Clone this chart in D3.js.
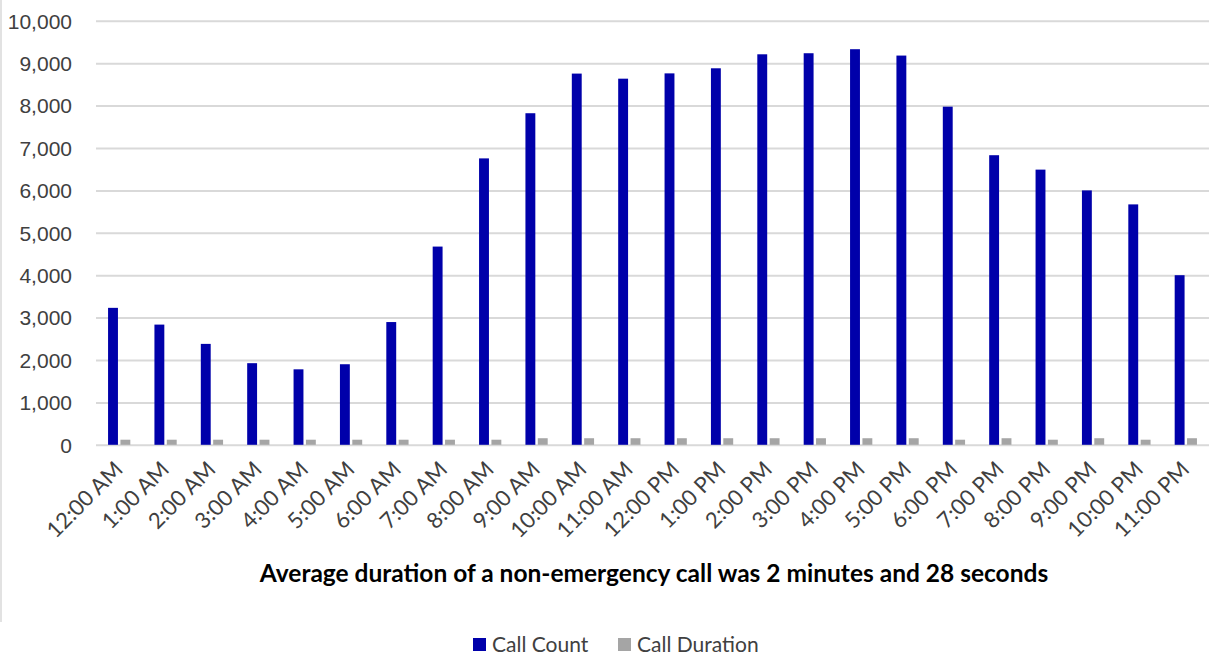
<!DOCTYPE html>
<html>
<head>
<meta charset="utf-8">
<script src="https://cdn.jsdelivr.net/npm/d3@7"></script>
<style>
  body { margin: 0; background: #fff; }
  svg { font-family: Lato, "Open Sans", sans-serif; }
</style>
</head>
<body>
<svg id="chart"></svg>
<script>
// hours of the day
const hours = ["12:00 AM", "1:00 AM", "2:00 AM", "3:00 AM", "4:00 AM", "5:00 AM",
  "6:00 AM", "7:00 AM", "8:00 AM", "9:00 AM", "10:00 AM", "11:00 AM",
  "12:00 PM", "1:00 PM", "2:00 PM", "3:00 PM", "4:00 PM", "5:00 PM",
  "6:00 PM", "7:00 PM", "8:00 PM", "9:00 PM", "10:00 PM", "11:00 PM"];

const callCount = [3230, 2835, 2380, 1925, 1780, 1900, 2895, 4675, 6755, 7820,
  8755, 8635, 8760, 8880, 9210, 9235, 9330, 9180, 7975, 6830, 6490, 6000, 5670, 4000];

const callDuration = [120, 120, 120, 120, 120, 120, 120, 120, 120, 155,
  155, 155, 155, 155, 155, 155, 155, 155, 120, 155, 120, 155, 120, 155];

const seriesNames = ["Call Count", "Call Duration"];
const seriesColors = ["#0000aa", "#a5a5a5"];
const yTicks = [0, 1000, 2000, 3000, 4000, 5000, 6000, 7000, 8000, 9000, 10000];
const title = "Average duration of a non-emergency call was 2 minutes and 28 seconds";

const width = 1210, height = 656;
const plot = {left: 96, right: 1209, top: 20.8, bottom: 444.8};

const svg = d3.select("#chart")
    .attr("width", width)
    .attr("height", height);

// thin chart border on the left edge
svg.append("line")
    .attr("x1", 1).attr("x2", 1)
    .attr("y1", 0).attr("y2", 622)
    .attr("stroke", "#d9d9d9")
    .attr("stroke-width", 1.5);

let x0 = d3.scaleBand()
    .domain(hours)
    .range([plot.left, plot.right])
    .paddingInner(0.52)
    .paddingOuter(0.26);

let x1 = d3.scaleBand()
    .domain(seriesNames)
    .range([0, x0.bandwidth()])
    .paddingInner(0.2);

let y = d3.scaleLinear()
    .domain([0, 10000])
    .range([plot.bottom, plot.top]);

// gridlines
let yAxis = svg.append("g")
    .attr("transform", "translate(" + plot.left + ",0)")
    .call(d3.axisLeft(y)
        .tickValues(yTicks)
        .tickSize(-(plot.right - plot.left))
        .tickPadding(24)
        .tickFormat(d3.format(",")));

yAxis.select(".domain").remove();
yAxis.selectAll(".tick line")
    .attr("stroke", "#d9d9d9")
    .attr("stroke-width", 2);
yAxis.selectAll(".tick text")
    .attr("fill", "#404040")
    .style("font-size", "21px")
    .attr("dy", "0.35em");

// bars
let data = hours.map((h, i) => ({hour: h, values: [callCount[i], callDuration[i]]}));

let groups = svg.append("g")
    .selectAll("g")
    .data(data)
    .enter()
    .append("g")
    .attr("transform", d => "translate(" + x0(d.hour) + ",0)");

groups.selectAll("rect")
    .data(d => d.values.map((v, k) => ({series: seriesNames[k], value: v, k: k})))
    .enter()
    .append("rect")
    .attr("x", d => x1(d.series))
    .attr("width", x1.bandwidth())
    .attr("y", d => y(d.value))
    .attr("height", d => y(0) - y(d.value))
    .style("fill", d => seriesColors[d.k]);

// x labels, rotated
svg.append("g")
    .selectAll("text")
    .data(hours)
    .enter()
    .append("text")
    .attr("transform", d => "translate(" + (x0(d) + x0.bandwidth() / 2 - 6) + ",460) rotate(-45)")
    .attr("text-anchor", "end")
    .attr("dy", "0.7em")
    .attr("fill", "#404040")
    .style("font-size", "22px")
    .text(d => d);

// title under the axis
svg.append("text")
    .attr("x", 654)
    .attr("y", 582)
    .attr("text-anchor", "middle")
    .attr("fill", "#000")
    .style("font-size", "24.5px")
    .style("font-weight", "bold")
    .text(title);

// legend
let legendX = [473, 618];
let legend = svg.append("g")
    .selectAll("g")
    .data(seriesNames)
    .enter()
    .append("g")
    .attr("transform", (d, i) => "translate(" + legendX[i] + ",638)");

legend.append("rect")
    .attr("width", 13)
    .attr("height", 13)
    .style("fill", (d, i) => seriesColors[i]);

legend.append("text")
    .attr("x", 19)
    .attr("y", 14)
    .attr("fill", "#404040")
    .style("font-size", "21px")
    .text(d => d);
</script>
</body>
</html>
